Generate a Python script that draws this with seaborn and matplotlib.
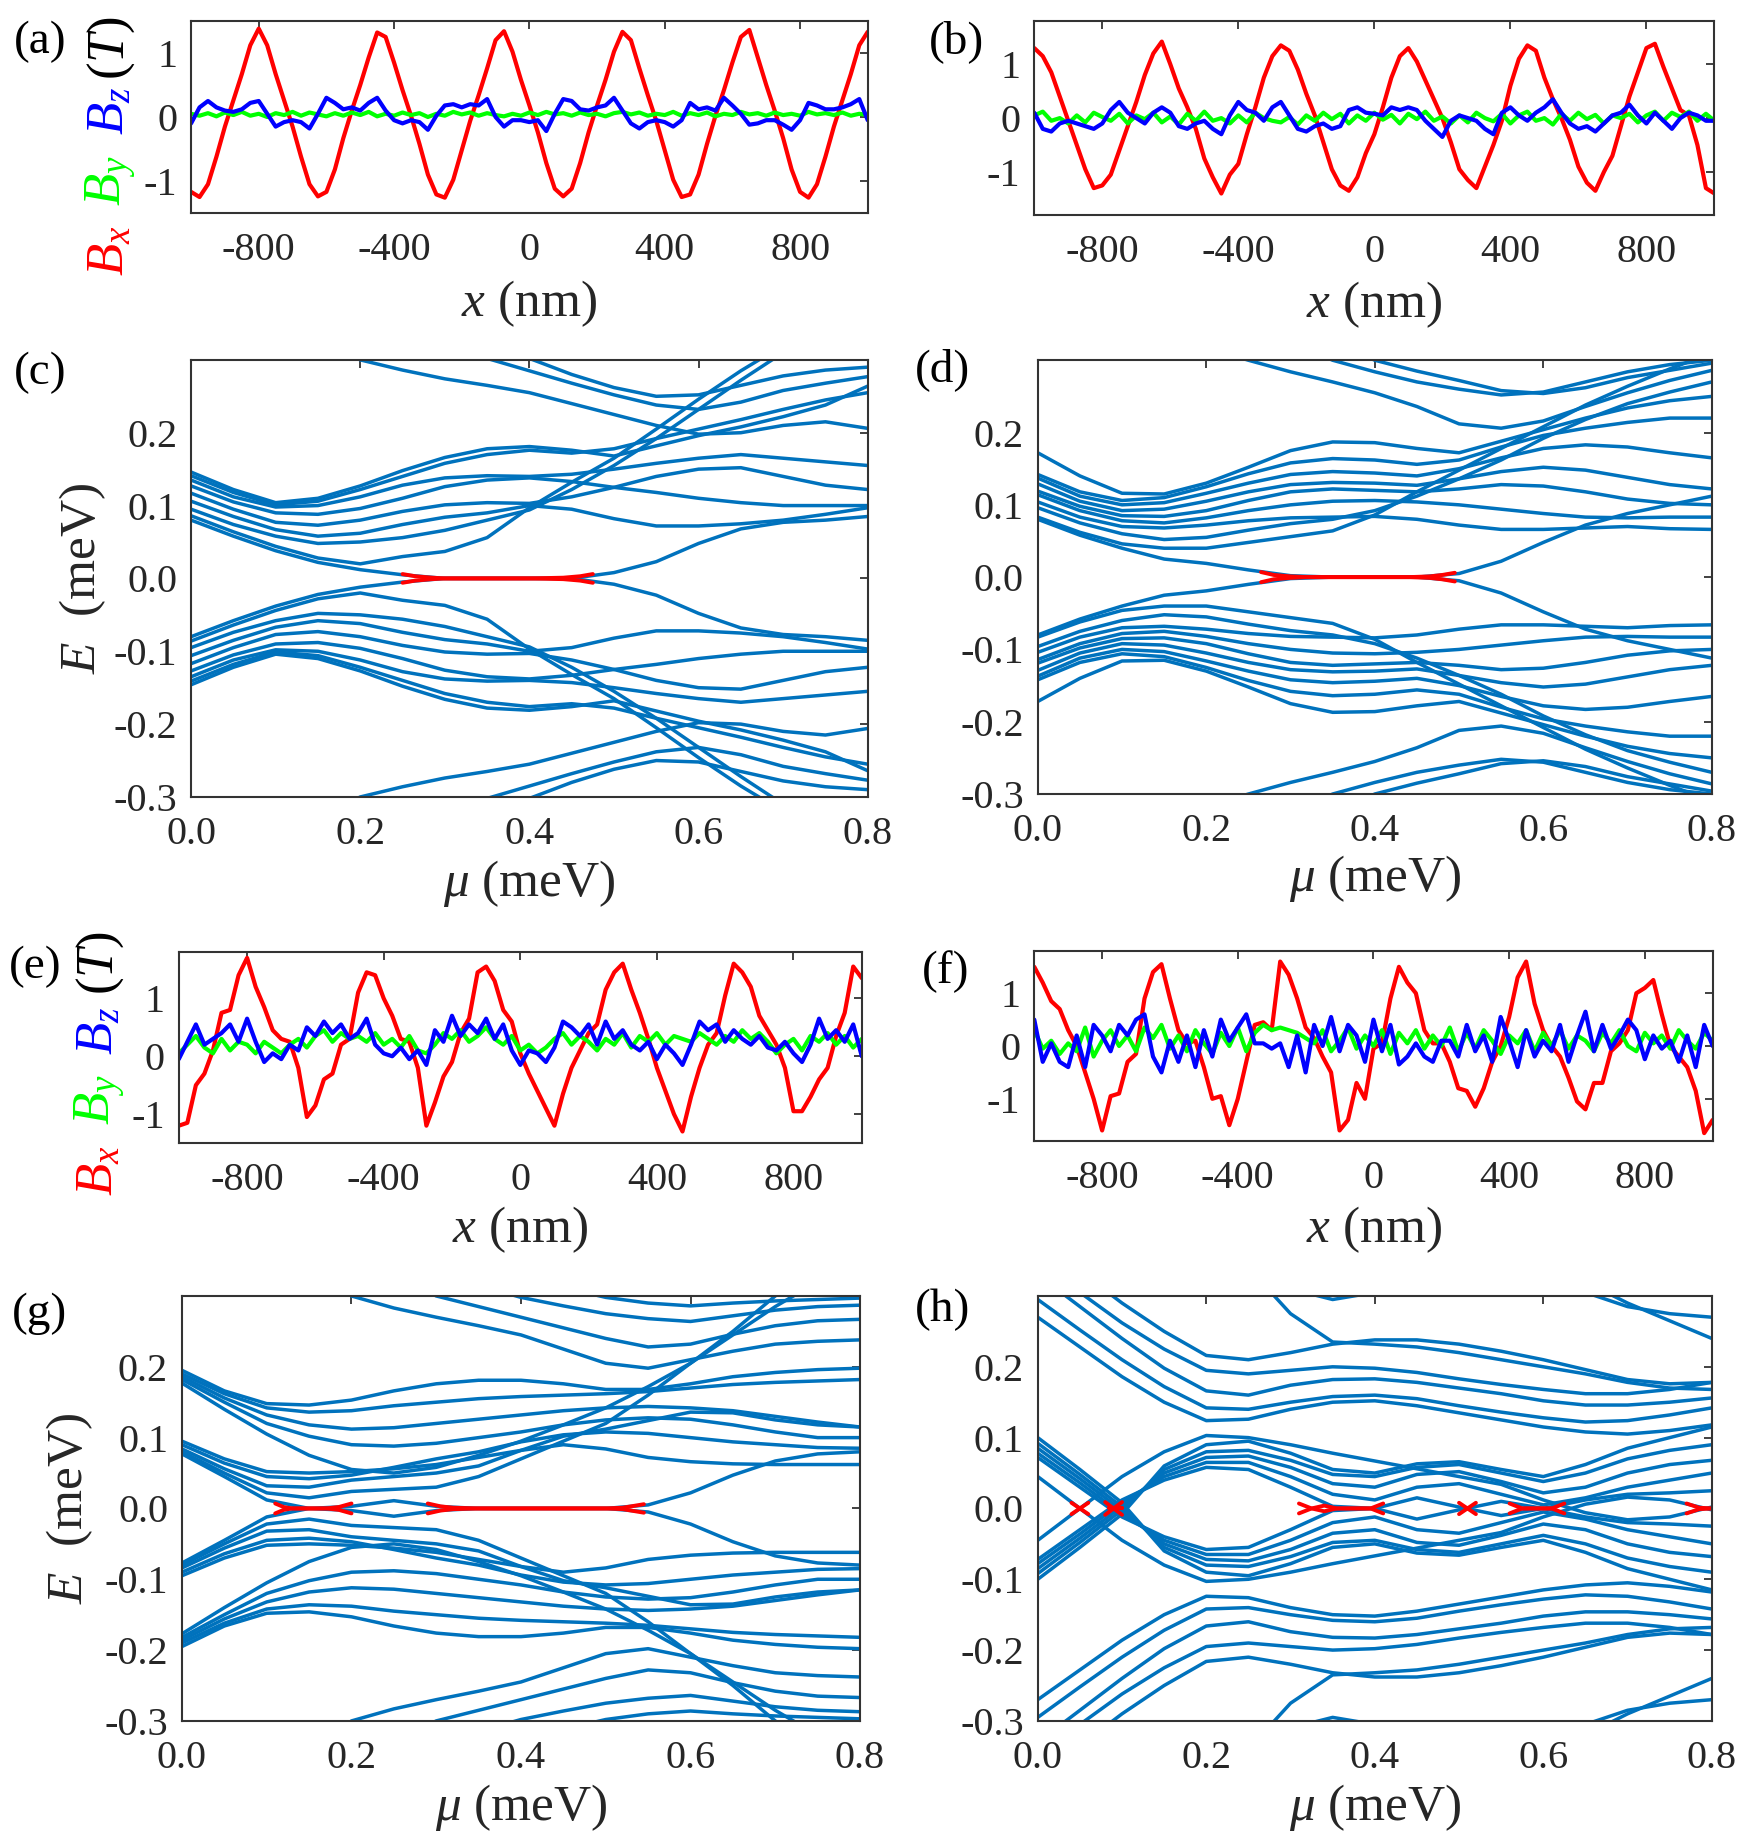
import numpy as np
import pandas as pd
import matplotlib
matplotlib.use("Agg")
import matplotlib.pyplot as plt
import seaborn as sns

# ---------------- field profiles (T), sampled every 25 nm from -1000 to 1000 nm ----------------
A_BX = [-1.17, -1.25, -1.05, -0.62, -0.15, 0.26, 0.67, 1.12, 1.38, 1.12,
        0.67, 0.26, -0.15, -0.62, -1.05, -1.24, -1.17, -0.82, -0.33, 0.10,
        0.50, 0.93, 1.32, 1.25, 0.85, 0.42, 0.02, -0.42, -0.90, -1.21,
        -1.26, -0.98, -0.52, -0.06, 0.34, 0.76, 1.20, 1.34, 1.02, 0.58,
        0.18, -0.24, -0.72, -1.12, -1.24, -1.12, -0.72, -0.24, 0.18, 0.58,
        1.02, 1.33, 1.20, 0.76, 0.34, -0.06, -0.52, -0.98, -1.25, -1.21,
        -0.90, -0.42, 0.02, 0.42, 0.85, 1.25, 1.36, 0.93, 0.50, 0.10,
        -0.33, -0.82, -1.17, -1.26, -1.05, -0.62, -0.15, 0.26, 0.67, 1.12,
        1.33]
A_BY = [0.05, 0.02, 0.06, 0.01, 0.07, 0.03, 0.08, 0.02, 0.05, 0.00,
        0.06, 0.03, 0.08, 0.02, 0.07, 0.04, 0.01, 0.06, 0.02, 0.07,
        0.03, 0.08, 0.01, 0.05, 0.02, 0.07, 0.03, 0.06, 0.00, 0.05,
        0.02, 0.08, 0.04, 0.07, 0.02, 0.06, 0.03, 0.01, 0.05, 0.02,
        0.07, 0.03, 0.08, 0.04, 0.06, 0.02, 0.07, 0.03, 0.05, 0.01,
        0.06, 0.08, 0.04, 0.07, 0.02, 0.05, 0.03, 0.08, 0.02, 0.06,
        0.03, 0.07, 0.01, 0.05, 0.03, 0.08, 0.04, 0.06, 0.02, 0.07,
        0.03, 0.05, 0.02, 0.08, 0.04, 0.06, 0.03, 0.07, 0.02, 0.05,
        0.03]
A_BZ = [-0.10, 0.15, 0.25, 0.15, 0.10, 0.08, 0.12, 0.22, 0.25, 0.05,
        -0.15, -0.08, -0.05, -0.08, -0.18, 0.05, 0.30, 0.22, 0.12, 0.15,
        0.10, 0.22, 0.30, 0.10, -0.05, -0.10, -0.05, -0.08, -0.20, 0.02,
        0.18, 0.20, 0.15, 0.20, 0.18, 0.28, 0.00, -0.15, -0.05, -0.05,
        -0.08, -0.05, -0.22, 0.05, 0.28, 0.25, 0.12, 0.10, 0.15, 0.18,
        0.30, 0.10, -0.10, -0.18, -0.08, -0.05, -0.08, -0.15, -0.05, 0.22,
        0.12, 0.15, 0.10, 0.30, 0.18, 0.05, -0.12, -0.10, -0.05, -0.05,
        -0.12, -0.20, -0.05, 0.22, 0.18, 0.12, 0.12, 0.15, 0.20, 0.28,
        -0.05]

B_BX = [1.30, 1.15, 0.85, 0.40, -0.05, -0.50, -0.95, -1.30, -1.25, -1.05,
        -0.60, -0.15, 0.30, 0.80, 1.20, 1.42, 1.00, 0.55, 0.20, -0.20,
        -0.75, -1.10, -1.40, -1.05, -0.85, -0.30, 0.20, 0.75, 1.15, 1.35,
        1.25, 0.90, 0.45, 0.05, -0.45, -0.95, -1.25, -1.35, -1.10, -0.65,
        -0.30, 0.20, 0.75, 1.15, 1.30, 1.05, 0.70, 0.35, 0.00, -0.45,
        -0.95, -1.15, -1.30, -0.90, -0.50, -0.05, 0.60, 1.10, 1.35, 1.25,
        0.75, 0.35, 0.00, -0.40, -0.90, -1.20, -1.35, -1.00, -0.70, -0.15,
        0.40, 0.85, 1.30, 1.38, 0.95, 0.55, 0.15, 0.05, -0.50, -1.30,
        -1.40]
B_BY = [0.05, 0.12, -0.05, 0.00, -0.10, 0.05, -0.08, 0.10, 0.02, -0.05,
        0.08, -0.10, 0.05, -0.02, 0.10, -0.08, 0.03, -0.12, 0.08, -0.05,
        0.12, -0.05, 0.00, -0.10, 0.05, -0.08, 0.10, 0.00, -0.05, -0.08,
        0.02, -0.12, 0.05, -0.05, 0.10, -0.02, 0.08, -0.10, 0.05, -0.05,
        0.10, -0.03, 0.06, -0.10, 0.08, -0.02, 0.12, -0.05, 0.03, -0.10,
        0.05, -0.08, 0.10, 0.00, -0.06, 0.08, -0.10, 0.05, 0.12, -0.05,
        0.00, -0.12, 0.08, -0.05, 0.10, -0.02, 0.06, -0.10, 0.05, 0.00,
        0.08, -0.08, 0.05, 0.12, -0.05, 0.10, 0.02, 0.12, -0.05, 0.08,
        -0.05]
B_BZ = [0.10, -0.20, -0.25, -0.10, -0.05, -0.10, -0.15, -0.20, -0.10, 0.15,
        0.30, 0.10, 0.00, -0.10, 0.10, 0.20, 0.10, -0.15, -0.20, -0.10,
        -0.05, -0.20, -0.30, 0.05, 0.30, 0.15, 0.10, -0.05, 0.20, 0.30,
        0.05, -0.20, -0.25, -0.15, -0.10, -0.20, -0.15, 0.15, 0.20, 0.10,
        0.08, 0.05, 0.20, 0.15, 0.20, 0.15, -0.05, -0.20, -0.35, -0.05,
        0.05, 0.00, -0.05, -0.20, -0.30, 0.10, 0.20, 0.05, -0.05, 0.10,
        0.20, 0.35, 0.10, -0.10, -0.20, -0.15, -0.25, -0.10, 0.05, 0.10,
        0.25, 0.05, -0.10, 0.10, -0.05, -0.20, 0.00, 0.10, 0.05, -0.05,
        -0.05]

E_BX = [-1.20, -1.15, -0.50, -0.30, 0.10, 0.75, 0.80, 1.40, 1.70, 1.20,
        0.85, 0.45, 0.30, 0.25, -0.20, -1.05, -0.85, -0.40, -0.30, 0.20,
        0.30, 1.10, 1.45, 1.40, 1.00, 0.70, 0.30, 0.25, -0.20, -1.20,
        -0.80, -0.35, -0.10, 0.40, 0.65, 1.45, 1.55, 1.30, 0.80, 0.60,
        0.05, -0.30, -0.60, -0.90, -1.20, -0.65, -0.20, 0.10, 0.40, 0.55,
        1.15, 1.45, 1.60, 1.15, 0.75, 0.30, -0.20, -0.60, -1.00, -1.30,
        -0.70, -0.20, 0.20, 0.40, 1.05, 1.60, 1.45, 1.20, 0.70, 0.45,
        0.20, -0.20, -0.95, -0.95, -0.70, -0.40, -0.20, 0.35, 0.75, 1.55,
        1.35]
E_BY = [0.05, 0.20, 0.35, 0.15, 0.05, 0.30, 0.10, 0.25, 0.20, 0.05,
        0.25, 0.15, 0.05, 0.20, 0.30, 0.15, 0.35, 0.45, 0.25, 0.40,
        0.30, 0.35, 0.25, 0.40, 0.20, 0.30, 0.15, 0.35, 0.10, 0.05,
        0.20, 0.40, 0.30, 0.45, 0.25, 0.35, 0.50, 0.30, 0.20, 0.35,
        0.10, 0.20, 0.05, 0.15, 0.30, 0.40, 0.20, 0.35, 0.25, 0.10,
        0.30, 0.20, 0.40, 0.15, 0.35, 0.25, 0.40, 0.20, 0.35, 0.30,
        0.25, 0.40, 0.30, 0.20, 0.35, 0.25, 0.45, 0.30, 0.40, 0.25,
        0.05, 0.20, 0.30, 0.10, 0.35, 0.25, 0.40, 0.20, 0.35, 0.15,
        0.30]
E_BZ = [-0.05, 0.25, 0.55, 0.20, 0.30, 0.40, 0.55, 0.25, 0.65, 0.25,
        -0.10, 0.05, -0.05, 0.20, 0.10, 0.50, 0.35, 0.60, 0.40, 0.55,
        0.30, 0.40, 0.65, 0.20, 0.05, 0.00, 0.15, -0.05, 0.10, -0.15,
        0.45, 0.25, 0.70, 0.35, 0.55, 0.40, 0.65, 0.30, 0.55, 0.10,
        -0.15, 0.10, 0.05, -0.10, 0.15, 0.60, 0.50, 0.35, 0.55, 0.20,
        0.60, 0.30, 0.45, 0.20, 0.10, 0.25, -0.05, 0.20, 0.05, -0.15,
        0.20, 0.60, 0.45, 0.55, 0.25, 0.45, 0.30, 0.20, 0.35, 0.15,
        0.10, 0.25, 0.05, -0.10, 0.20, 0.65, 0.30, 0.45, 0.25, 0.55,
        0.00]

F_BX = [1.50, 1.20, 0.85, 0.70, 0.30, 0.00, -0.50, -1.00, -1.60, -0.95,
        -0.90, -0.30, -0.15, 0.90, 1.40, 1.55, 0.90, 0.30, 0.05, 0.10,
        -0.40, -1.00, -0.95, -1.50, -1.00, -0.30, 0.40, 0.45, 0.30, 1.60,
        1.35, 0.90, 0.35, 0.15, -0.20, -0.50, -1.60, -1.40, -0.70, -1.00,
        -0.05, 0.05, 0.90, 1.50, 1.20, 1.00, 0.30, 0.05, 0.05, -0.30,
        -0.80, -0.85, -1.15, -0.80, -0.30, 0.00, 0.55, 1.30, 1.60, 0.80,
        0.30, 0.00, -0.20, -0.60, -1.05, -1.20, -0.70, -0.70, -0.10, 0.05,
        0.30, 1.00, 1.10, 1.25, 0.60, 0.00, -0.20, -0.40, -0.85, -1.65,
        -1.40]
F_BY = [0.30, -0.05, 0.10, -0.15, 0.05, -0.10, 0.35, -0.20, 0.10, 0.30,
        0.00, 0.20, -0.10, 0.35, 0.15, 0.40, -0.05, 0.20, -0.10, 0.30,
        0.05, -0.15, 0.25, 0.00, 0.35, -0.10, 0.25, 0.40, 0.30, 0.35,
        0.30, 0.25, 0.15, 0.05, 0.30, -0.10, 0.10, 0.35, -0.05, 0.20,
        0.00, 0.30, -0.15, 0.25, 0.05, 0.30, -0.05, 0.20, 0.00, 0.35,
        -0.10, 0.25, -0.05, 0.30, 0.10, -0.15, 0.20, 0.05, 0.30, -0.10,
        0.25, 0.00, 0.30, -0.05, 0.20, 0.10, -0.10, 0.25, 0.05, 0.30,
        0.00, -0.10, 0.25, 0.05, 0.20, -0.05, 0.30, 0.10, -0.05, 0.25,
        0.10]
F_BZ = [0.50, -0.30, 0.05, -0.30, -0.40, 0.20, -0.40, 0.40, 0.20, -0.10,
        0.40, 0.20, 0.50, 0.60, -0.20, -0.50, 0.10, -0.30, 0.20, -0.40,
        0.30, -0.20, 0.50, 0.10, 0.35, 0.60, 0.05, 0.05, -0.05, 0.05,
        -0.40, 0.20, -0.50, 0.40, 0.00, 0.55, -0.10, 0.40, 0.20, -0.30,
        0.50, -0.10, 0.40, -0.35, -0.20, 0.05, -0.20, -0.30, 0.10, 0.10,
        -0.20, 0.40, -0.10, 0.20, -0.30, 0.55, 0.10, -0.40, 0.30, -0.20,
        0.10, -0.10, 0.40, -0.30, 0.20, 0.65, -0.10, 0.40, -0.05, 0.20,
        0.50, 0.30, -0.25, 0.20, -0.05, 0.10, -0.30, 0.20, -0.40, 0.40,
        0.00]

# ---------------- spectra: positive branches E(mu), mu = 0 ... 0.8 meV in steps of 0.05 ----------------
# (particle-hole symmetric, the negative branches are the mirror images)
C_BANDS = [
    [0.080, 0.058, 0.038, 0.022, 0.012, 0.005, 0.000, 0.000, 0.000, 0.000, 0.008, 0.023, 0.048, 0.068, 0.077, 0.080, 0.085],
    [0.086, 0.064, 0.044, 0.028, 0.020, 0.030, 0.037, 0.056, 0.097, 0.132, 0.165, 0.205, 0.246, 0.285, 0.320, 0.350, 0.380],
    [0.095, 0.074, 0.058, 0.048, 0.050, 0.056, 0.066, 0.080, 0.094, 0.122, 0.155, 0.192, 0.232, 0.272, 0.310, 0.340, 0.370],
    [0.106, 0.085, 0.067, 0.058, 0.062, 0.074, 0.084, 0.090, 0.100, 0.095, 0.082, 0.072, 0.072, 0.075, 0.080, 0.088, 0.097],
    [0.117, 0.095, 0.077, 0.073, 0.080, 0.092, 0.101, 0.104, 0.103, 0.112, 0.125, 0.140, 0.150, 0.152, 0.140, 0.128, 0.122],
    [0.127, 0.105, 0.090, 0.088, 0.096, 0.110, 0.126, 0.135, 0.138, 0.133, 0.125, 0.118, 0.110, 0.104, 0.100, 0.100, 0.100],
    [0.135, 0.112, 0.098, 0.100, 0.112, 0.128, 0.138, 0.141, 0.140, 0.143, 0.150, 0.158, 0.165, 0.170, 0.165, 0.160, 0.155],
    [0.141, 0.118, 0.101, 0.106, 0.122, 0.140, 0.158, 0.170, 0.176, 0.172, 0.178, 0.192, 0.205, 0.218, 0.232, 0.245, 0.255],
    [0.146, 0.122, 0.104, 0.110, 0.127, 0.148, 0.166, 0.178, 0.181, 0.176, 0.168, 0.182, 0.196, 0.208, 0.222, 0.238, 0.264],
    [0.420, 0.390, 0.360, 0.330, 0.300, 0.286, 0.274, 0.265, 0.255, 0.240, 0.225, 0.210, 0.198, 0.200, 0.210, 0.215, 0.206],
    [0.520, 0.480, 0.440, 0.405, 0.375, 0.350, 0.325, 0.302, 0.285, 0.268, 0.252, 0.238, 0.232, 0.242, 0.258, 0.268, 0.277],
    [0.580, 0.540, 0.500, 0.460, 0.425, 0.390, 0.360, 0.330, 0.302, 0.280, 0.262, 0.250, 0.252, 0.265, 0.278, 0.286, 0.290],
]
D_BANDS = [
    [0.080, 0.058, 0.040, 0.025, 0.019, 0.010, 0.002, 0.000, 0.000, 0.000, 0.005, 0.022, 0.048, 0.072, 0.088, 0.100, 0.112],
    [0.083, 0.062, 0.046, 0.040, 0.040, 0.048, 0.056, 0.064, 0.086, 0.118, 0.148, 0.178, 0.208, 0.238, 0.264, 0.288, 0.310],
    [0.096, 0.075, 0.060, 0.052, 0.055, 0.065, 0.074, 0.080, 0.092, 0.112, 0.136, 0.162, 0.192, 0.218, 0.240, 0.256, 0.270],
    [0.104, 0.083, 0.070, 0.068, 0.072, 0.078, 0.082, 0.083, 0.084, 0.080, 0.072, 0.066, 0.066, 0.068, 0.070, 0.067, 0.066],
    [0.114, 0.092, 0.078, 0.075, 0.082, 0.092, 0.100, 0.105, 0.106, 0.104, 0.100, 0.094, 0.088, 0.083, 0.082, 0.083, 0.083],
    [0.119, 0.098, 0.085, 0.084, 0.092, 0.106, 0.118, 0.122, 0.120, 0.118, 0.122, 0.128, 0.126, 0.118, 0.108, 0.102, 0.100],
    [0.129, 0.105, 0.092, 0.094, 0.105, 0.118, 0.128, 0.131, 0.130, 0.127, 0.136, 0.146, 0.152, 0.148, 0.138, 0.128, 0.122],
    [0.137, 0.112, 0.100, 0.103, 0.116, 0.130, 0.142, 0.146, 0.144, 0.140, 0.150, 0.165, 0.178, 0.183, 0.180, 0.172, 0.165],
    [0.142, 0.118, 0.106, 0.110, 0.125, 0.143, 0.158, 0.164, 0.162, 0.156, 0.162, 0.180, 0.196, 0.206, 0.214, 0.220, 0.220],
    [0.172, 0.140, 0.116, 0.115, 0.130, 0.152, 0.175, 0.187, 0.186, 0.178, 0.172, 0.188, 0.204, 0.220, 0.234, 0.244, 0.250],
    [0.440, 0.405, 0.370, 0.340, 0.318, 0.300, 0.284, 0.270, 0.255, 0.236, 0.212, 0.206, 0.216, 0.236, 0.255, 0.272, 0.286],
    [0.540, 0.500, 0.460, 0.420, 0.385, 0.355, 0.326, 0.300, 0.284, 0.270, 0.260, 0.252, 0.256, 0.270, 0.284, 0.294, 0.300],
    [0.600, 0.560, 0.520, 0.475, 0.435, 0.395, 0.360, 0.328, 0.300, 0.285, 0.272, 0.258, 0.254, 0.262, 0.276, 0.286, 0.296],
]
G_BANDS = [
    [0.077, 0.045, 0.012, 0.000, 0.003, 0.011, 0.003, 0.000, 0.000, 0.000, 0.000, 0.005, 0.022, 0.047, 0.067, 0.077, 0.080],
    [0.080, 0.050, 0.022, 0.015, 0.024, 0.027, 0.030, 0.045, 0.070, 0.095, 0.120, 0.160, 0.205, 0.250, 0.300, 0.340, 0.380],
    [0.084, 0.056, 0.032, 0.030, 0.040, 0.045, 0.050, 0.060, 0.082, 0.102, 0.112, 0.124, 0.136, 0.135, 0.125, 0.118, 0.115],
    [0.090, 0.064, 0.045, 0.042, 0.047, 0.058, 0.070, 0.080, 0.094, 0.104, 0.108, 0.106, 0.100, 0.094, 0.090, 0.086, 0.085],
    [0.095, 0.070, 0.052, 0.050, 0.052, 0.056, 0.062, 0.072, 0.082, 0.090, 0.084, 0.072, 0.066, 0.063, 0.062, 0.062, 0.062],
    [0.177, 0.140, 0.105, 0.075, 0.055, 0.050, 0.058, 0.075, 0.095, 0.118, 0.142, 0.172, 0.205, 0.245, 0.285, 0.320, 0.350],
    [0.182, 0.150, 0.120, 0.102, 0.090, 0.088, 0.092, 0.100, 0.108, 0.118, 0.125, 0.128, 0.126, 0.118, 0.108, 0.100, 0.100],
    [0.186, 0.156, 0.132, 0.118, 0.112, 0.114, 0.120, 0.126, 0.132, 0.138, 0.142, 0.144, 0.142, 0.138, 0.130, 0.122, 0.115],
    [0.190, 0.162, 0.142, 0.136, 0.138, 0.145, 0.150, 0.155, 0.158, 0.160, 0.162, 0.165, 0.170, 0.175, 0.178, 0.180, 0.182],
    [0.195, 0.166, 0.148, 0.146, 0.153, 0.166, 0.176, 0.181, 0.181, 0.176, 0.168, 0.168, 0.176, 0.186, 0.192, 0.196, 0.198],
    [0.500, 0.450, 0.400, 0.350, 0.300, 0.283, 0.270, 0.258, 0.245, 0.225, 0.205, 0.198, 0.210, 0.222, 0.232, 0.236, 0.238],
    [0.550, 0.500, 0.450, 0.400, 0.360, 0.330, 0.300, 0.285, 0.270, 0.255, 0.240, 0.228, 0.232, 0.246, 0.258, 0.265, 0.267],
    [0.600, 0.550, 0.500, 0.450, 0.400, 0.370, 0.340, 0.315, 0.298, 0.286, 0.275, 0.268, 0.264, 0.272, 0.280, 0.285, 0.287],
    [0.650, 0.600, 0.550, 0.500, 0.460, 0.420, 0.380, 0.350, 0.330, 0.312, 0.298, 0.290, 0.286, 0.290, 0.293, 0.295, 0.297],
]
H_BANDS = [
    [-0.045, 0.000, 0.045, 0.080, 0.103, 0.100, 0.090, 0.078, 0.067, 0.056, 0.045, 0.034, 0.012, -0.006, -0.016, -0.012, 0.002],
    [-0.072, -0.030, 0.012, 0.040, 0.058, 0.055, 0.030, 0.003, 0.000, 0.015, 0.002, -0.010, 0.000, 0.012, 0.020, 0.022, 0.025],
    [-0.078, -0.036, 0.008, 0.045, 0.065, 0.065, 0.045, 0.020, 0.012, 0.030, 0.035, 0.020, 0.005, 0.015, 0.030, 0.040, 0.050],
    [-0.085, -0.042, 0.003, 0.050, 0.072, 0.074, 0.058, 0.035, 0.030, 0.048, 0.052, 0.038, 0.022, 0.030, 0.050, 0.062, 0.068],
    [-0.092, -0.048, -0.002, 0.055, 0.080, 0.082, 0.068, 0.048, 0.045, 0.058, 0.062, 0.050, 0.038, 0.050, 0.070, 0.082, 0.090],
    [-0.100, -0.055, -0.008, 0.060, 0.090, 0.095, 0.078, 0.055, 0.050, 0.063, 0.066, 0.055, 0.045, 0.062, 0.085, 0.100, 0.115],
    [0.270, 0.228, 0.186, 0.150, 0.124, 0.126, 0.140, 0.150, 0.152, 0.145, 0.135, 0.125, 0.115, 0.108, 0.105, 0.110, 0.118],
    [0.295, 0.252, 0.210, 0.172, 0.142, 0.140, 0.150, 0.158, 0.160, 0.155, 0.145, 0.136, 0.128, 0.122, 0.124, 0.132, 0.142],
    [0.330, 0.285, 0.240, 0.198, 0.166, 0.160, 0.174, 0.182, 0.183, 0.178, 0.170, 0.162, 0.152, 0.146, 0.146, 0.150, 0.156],
    [0.350, 0.305, 0.262, 0.225, 0.195, 0.190, 0.195, 0.200, 0.198, 0.192, 0.183, 0.175, 0.168, 0.162, 0.162, 0.168, 0.178],
    [0.380, 0.335, 0.290, 0.250, 0.216, 0.210, 0.220, 0.232, 0.238, 0.238, 0.232, 0.222, 0.210, 0.196, 0.182, 0.176, 0.178],
    [0.600, 0.550, 0.500, 0.450, 0.400, 0.340, 0.275, 0.235, 0.232, 0.228, 0.220, 0.210, 0.200, 0.190, 0.178, 0.170, 0.168],
    [0.800, 0.700, 0.600, 0.500, 0.420, 0.360, 0.310, 0.295, 0.305, 0.330, 0.350, 0.360, 0.350, 0.320, 0.290, 0.265, 0.240],
    [0.900, 0.800, 0.700, 0.600, 0.520, 0.460, 0.420, 0.400, 0.390, 0.380, 0.370, 0.350, 0.330, 0.305, 0.285, 0.275, 0.270],
]

# zero-energy (Majorana) segments drawn in red, upper branch (mirrored)
RED_C_MU = [[0.250, 0.265, 0.285, 0.300, 0.350, 0.400, 0.440, 0.460, 0.475]]
RED_C_E = [[0.006, 0.003, 0.001, 0.000, 0.000, 0.000, 0.001, 0.003, 0.006]]
RED_D_MU = [[0.265, 0.280, 0.300, 0.320, 0.380, 0.440, 0.465, 0.480, 0.495]]
RED_D_E = [[0.007, 0.003, 0.001, 0.000, 0.000, 0.000, 0.001, 0.003, 0.006]]
RED_G_MU = [[0.110, 0.120, 0.130, 0.150, 0.170, 0.185, 0.200],
            [0.290, 0.305, 0.320, 0.350, 0.450, 0.500, 0.520, 0.535, 0.545]]
RED_G_E = [[0.007, 0.002, 0.000, 0.000, 0.000, 0.002, 0.007],
           [0.007, 0.003, 0.001, 0.000, 0.000, 0.000, 0.001, 0.004, 0.006]]
RED_H_MU = [[0.040, 0.050, 0.060], [0.080, 0.090, 0.100], [0.085, 0.100],
            [0.310, 0.325, 0.340, 0.355, 0.370, 0.395, 0.410],
            [0.500, 0.510, 0.520], [0.560, 0.575, 0.600, 0.610, 0.625],
            [0.770, 0.785, 0.800]]
RED_H_E = [[0.008, 0.000, -0.008], [0.009, 0.000, -0.009], [0.000, 0.000],
           [0.007, 0.000, 0.004, 0.000, 0.000, 0.000, 0.007],
           [0.008, 0.000, -0.008], [0.007, 0.000, 0.000, 0.000, 0.007],
           [0.007, 0.001, 0.000]]

BAND_BLUE = "#0072BD"
INK = "#262626"

sns.set_theme(style="white")
plt.rcParams.update({
    "font.family": ["Liberation Serif", "DejaVu Serif"],
    "mathtext.fontset": "custom",
    "mathtext.rm": "Liberation Serif",
    "mathtext.it": "Liberation Serif:italic",
    "mathtext.bf": "Liberation Serif:bold",
    "axes.unicode_minus": False,
    "axes.edgecolor": "#333333",
    "axes.linewidth": 1.5,
})


def style_axis(ax, xticks, xlabels, yticks, ylabels):
    ax.set_xticks(xticks)
    ax.set_xticklabels(xlabels)
    ax.set_yticks(yticks)
    ax.set_yticklabels(ylabels)
    ax.tick_params(direction="in", top=True, right=True, length=6, width=1.3,
                   color="#333333", labelsize=29, labelcolor=INK)
    ax.tick_params(axis="x", pad=14)
    ax.tick_params(axis="y", pad=10)
    ax.set_xlabel("")
    ax.set_ylabel("")


def field_panel(ax, bx, by, bz, ylim, xlab_y):
    for vals, col in ((bx, "#FF0000"), (by, "#00FF00"), (bz, "#0000FF")):
        x = np.linspace(-1000, 1000, len(vals))
        sns.lineplot(x=x, y=vals, color=col, lw=3.0, estimator=None, sort=False, ax=ax)
    ax.set_xlim(-1000, 1000)
    ax.set_ylim(*ylim)
    style_axis(ax, [-800, -400, 0, 400, 800], ["-800", "-400", "0", "400", "800"],
               [-1, 0, 1], ["-1", "0", "1"])
    ax.set_xlabel("$x$ (nm)", fontsize=37, color=INK, va="center")
    ax.xaxis.set_label_coords(0.5, xlab_y)


def spectrum_panel(ax, bands, red_mu, red_e, xlab_y, ylab_x=None):
    rows = []
    for i, band in enumerate(bands):
        mu = np.linspace(0.0, 0.8, len(band))
        for sign in (1, -1):
            rows += [(f"{i}{sign:+d}", m, sign * e) for m, e in zip(mu, band)]
    df = pd.DataFrame(rows, columns=["band", "mu", "E"])
    sns.lineplot(data=df, x="mu", y="E", units="band", estimator=None, sort=False,
                 color=BAND_BLUE, lw=2.5, ax=ax)
    for seg_mu, seg_e in zip(red_mu, red_e):
        for sign in (1, -1):
            sns.lineplot(x=seg_mu, y=[sign * e for e in seg_e], color="#FF0000", lw=2.8,
                         estimator=None, sort=False, ax=ax)
    ax.set_xlim(0, 0.8)
    ax.set_ylim(-0.3, 0.3)
    style_axis(ax, [0, 0.2, 0.4, 0.6, 0.8], ["0.0", "0.2", "0.4", "0.6", "0.8"],
               [-0.3, -0.2, -0.1, 0.0, 0.1, 0.2], ["-0.3", "-0.2", "-0.1", "0.0", "0.1", "0.2"])
    ax.set_xlabel(r"$\mu$ (meV)", fontsize=37, color=INK, va="center")
    ax.xaxis.set_label_coords(0.5, xlab_y)
    if ylab_x is not None:
        ax.set_ylabel("$E$  (meV)", fontsize=37, color=INK, va="center")
        ax.yaxis.set_label_coords(ylab_x, 0.5)


fig = plt.figure(figsize=(17.53, 18.38), dpi=100)
ax_a = fig.add_axes([0.109, 0.8841, 0.386, 0.1045])
ax_b = fig.add_axes([0.590, 0.8830, 0.388, 0.1055])
ax_c = fig.add_axes([0.109, 0.5664, 0.386, 0.2378])
ax_d = fig.add_axes([0.592, 0.5680, 0.3845, 0.2360])
ax_e = fig.add_axes([0.102, 0.3781, 0.3896, 0.1039])
ax_f = fig.add_axes([0.590, 0.3792, 0.3870, 0.1034])
ax_g = fig.add_axes([0.1038, 0.0637, 0.3868, 0.2312])
ax_h = fig.add_axes([0.592, 0.0637, 0.3845, 0.2312])

field_panel(ax_a, A_BX, A_BY, A_BZ, (-1.5, 1.5), -0.47)
field_panel(ax_b, B_BX, B_BY, B_BZ, (-1.8, 1.8), -0.46)
field_panel(ax_e, E_BX, E_BY, E_BZ, (-1.5, 1.8), -0.455)
field_panel(ax_f, F_BX, F_BY, F_BZ, (-1.8, 1.8), -0.468)

spectrum_panel(ax_c, C_BANDS, RED_C_MU, RED_C_E, -0.198, -0.160)
spectrum_panel(ax_d, D_BANDS, RED_D_MU, RED_D_E, -0.195)
spectrum_panel(ax_g, G_BANDS, RED_G_MU, RED_G_E, -0.203, -0.165)
spectrum_panel(ax_h, H_BANDS, RED_H_MU, RED_H_E, -0.203)

# coloured y labels of the field panels
for x0, ys in ((0.0633, (0.9740, 0.9395, 0.9015, 0.8635)),
               (0.0570, (0.4762, 0.4390, 0.4015, 0.3630))):
    for y0, txt, col in zip(ys, ("($T$)", "$B_z$", "$B_y$", "$B_x$"),
                            ("black", "#0000FF", "#00FF00", "#FF0000")):
        fig.text(x0, y0, txt, color=col, fontsize=38, rotation=90, ha="center", va="center")

# panel letters
for txt, x0, y0 in (("(a)", 0.0228, 0.9771), ("(b)", 0.5454, 0.9771),
                    ("(c)", 0.0228, 0.7970), ("(d)", 0.5379, 0.7990),
                    ("(e)", 0.0200, 0.4740), ("(f)", 0.5397, 0.4712),
                    ("(g)", 0.0228, 0.2855), ("(h)", 0.5379, 0.2873)):
    fig.text(x0, y0, txt, fontsize=34, ha="center", va="center", color="black")

fig.savefig("out.png", dpi=100)
